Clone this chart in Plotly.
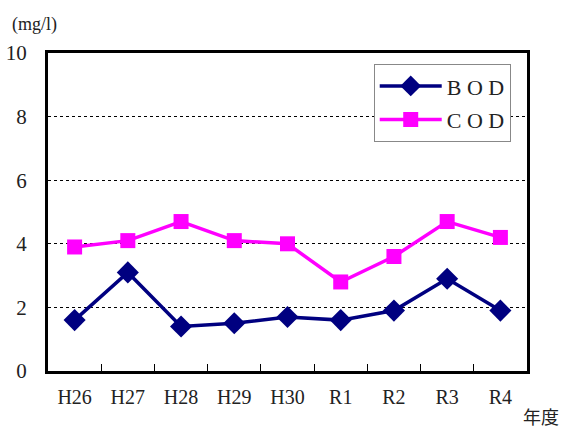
import plotly.graph_objects as go

years = ["H26", "H27", "H28", "H29", "H30", "R1", "R2", "R3", "R4"]
bod = [1.6, 3.1, 1.4, 1.5, 1.7, 1.6, 1.9, 2.9, 1.9]
cod = [3.9, 4.1, 4.7, 4.1, 4.0, 2.8, 3.6, 4.7, 4.2]
y_ticks = [0, 2, 4, 6, 8, 10]

SERIF = "Liberation Serif"

fig = go.Figure()
fig.add_trace(go.Scatter(
    x=years, y=bod, name="B O D", mode="lines+markers", legendgroup="a",
    line=dict(color="#000080", width=3.5),
    marker=dict(symbol="diamond", size=17, color="#000080"),
))
fig.add_trace(go.Scatter(
    x=years, y=cod, name="C O D", mode="lines+markers", legendgroup="b",
    line=dict(color="#FF00FF", width=3.5),
    marker=dict(symbol="square", size=15, color="#FF00FF"),
))

fig.update_layout(
    width=567, height=429,
    margin=dict(l=48, r=40, t=53, b=58, autoexpand=False),
    paper_bgcolor="white", plot_bgcolor="white",
    font=dict(family=SERIF, color="#222222", size=19),
    showlegend=True,
    legend=dict(
        x=0.68, y=0.965, xanchor="left", yanchor="top",
        bordercolor="#888888", borderwidth=1, bgcolor="white",
        font=dict(family=SERIF, size=22, color="#222222"),
        itemwidth=62, tracegroupgap=2,
    ),
    xaxis=dict(
        type="category", range=[-0.5, 8.5],
        showline=True, linecolor="black", linewidth=3, mirror=True,
        ticks="inside", tickson="boundaries", ticklen=7, tickcolor="black", tickwidth=1,
        showgrid=False, tickfont=dict(family=SERIF, size=20), ticklabelstandoff=6,
    ),
    yaxis=dict(
        range=[0, 10], tickvals=y_ticks,
        showline=True, linecolor="black", linewidth=3, mirror=True,
        showgrid=True, gridcolor="black", gridwidth=1, griddash="dot",
        ticks="", tickfont=dict(family=SERIF, size=21), ticklabelstandoff=14, zeroline=False,
    ),
    annotations=[
        dict(text="(mg/l)", xref="paper", yref="paper", x=-0.08, y=1.0,
             xanchor="left", yanchor="bottom", yshift=16, showarrow=False,
             font=dict(family=SERIF, size=18, color="#222222")),
        dict(text="年度", xref="paper", yref="paper", x=1.0, y=0.0,
             xanchor="left", yanchor="top", yshift=-30, xshift=-6, showarrow=False,
             font=dict(family="Noto Sans CJK JP", size=18, color="#222222")),
    ],
)

fig.write_html("out.html", config={"displayModeBar": False},
               post_script="document.body.style.margin='0';")
